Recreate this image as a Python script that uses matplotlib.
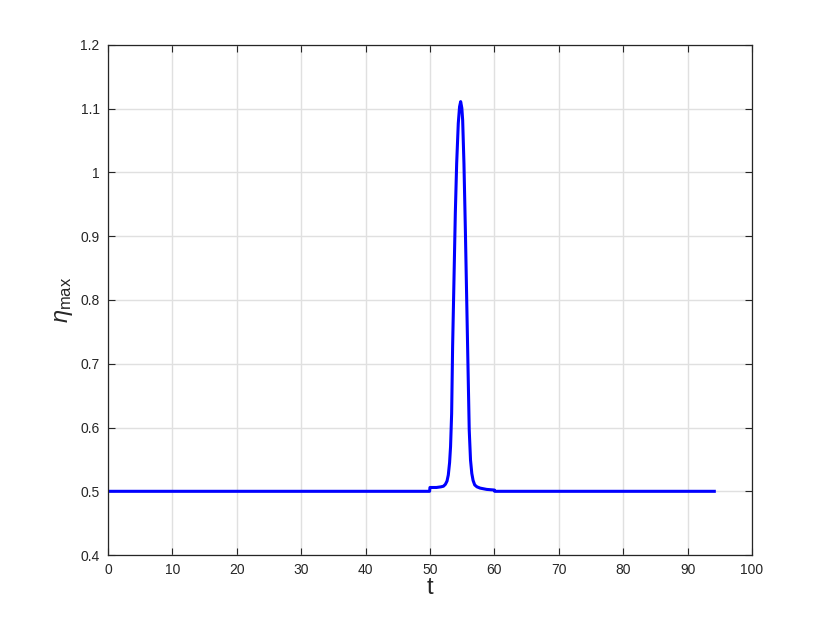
import matplotlib
matplotlib.use("Agg")
import matplotlib.pyplot as plt

plt.rcParams['font.family'] = ['Liberation Sans', 'DejaVu Sans']
plt.rcParams['mathtext.fontset'] = 'custom'
plt.rcParams['mathtext.rm'] = 'Liberation Sans'
plt.rcParams['mathtext.it'] = 'Liberation Sans:italic'

t = [0, 10, 20, 30, 40, 49.95, 50.0, 51.0, 51.7, 52.1, 52.4, 52.65, 52.85, 53.05, 53.2, 53.37, 53.52, 53.73,
     53.94, 54.15, 54.4, 54.6, 54.77, 54.95, 55.08, 55.28, 55.5, 55.7, 55.9, 56.1,
     56.3, 56.5, 56.7, 56.95, 57.3, 57.8, 58.8, 60.0, 60.05, 70, 80, 90, 94.15]
eta = [0.5, 0.5, 0.5, 0.5, 0.5, 0.5, 0.506, 0.506, 0.507, 0.508, 0.511, 0.516, 0.5255, 0.545, 0.570, 0.622, 0.727, 0.831,
       0.936, 1.014, 1.077, 1.103, 1.111, 1.101, 1.082, 1.014, 0.910, 0.805, 0.70, 0.596,
       0.549, 0.528, 0.517, 0.510, 0.507, 0.505, 0.503, 0.502, 0.5, 0.5, 0.5, 0.5, 0.5]

xticks = [0, 10, 20, 30, 40, 50, 60, 70, 80, 90, 100]
yticks = [0.4, 0.5, 0.6, 0.7, 0.8, 0.9, 1.0, 1.1, 1.2]
yticklabels = ['0.4', '0.5', '0.6', '0.7', '0.8', '0.9', '1', '1.1', '1.2']

fig = plt.figure(figsize=(8.3, 6.23), dpi=100)
ax = fig.add_axes([0.130, 0.109, 0.776, 0.819])
ax.plot(t, eta, color='#0000ff', lw=2.2, solid_joinstyle='round')
ax.set_xlim(0, 100)
ax.set_ylim(0.4, 1.2)
ax.set_xticks(xticks)
ax.set_yticks(yticks)
ax.set_yticklabels(yticklabels)
ax.grid(True, color='#e0e0e0', lw=1.0)
ax.set_axisbelow(True)
ax.tick_params(direction='in', top=True, right=True, length=5, width=0.8,
               labelsize=10, colors='#262626', labelcolor='#262626', pad=6)
for s in ax.spines.values():
    s.set_color('#262626')
    s.set_linewidth(0.9)
ax.set_xlabel('t', fontsize=17, color='#262626', labelpad=0)
ax.set_ylabel(r'$\eta_{\mathrm{max}}$', fontsize=17, color='#262626', labelpad=4)
fig.savefig('out.png', dpi=100)
